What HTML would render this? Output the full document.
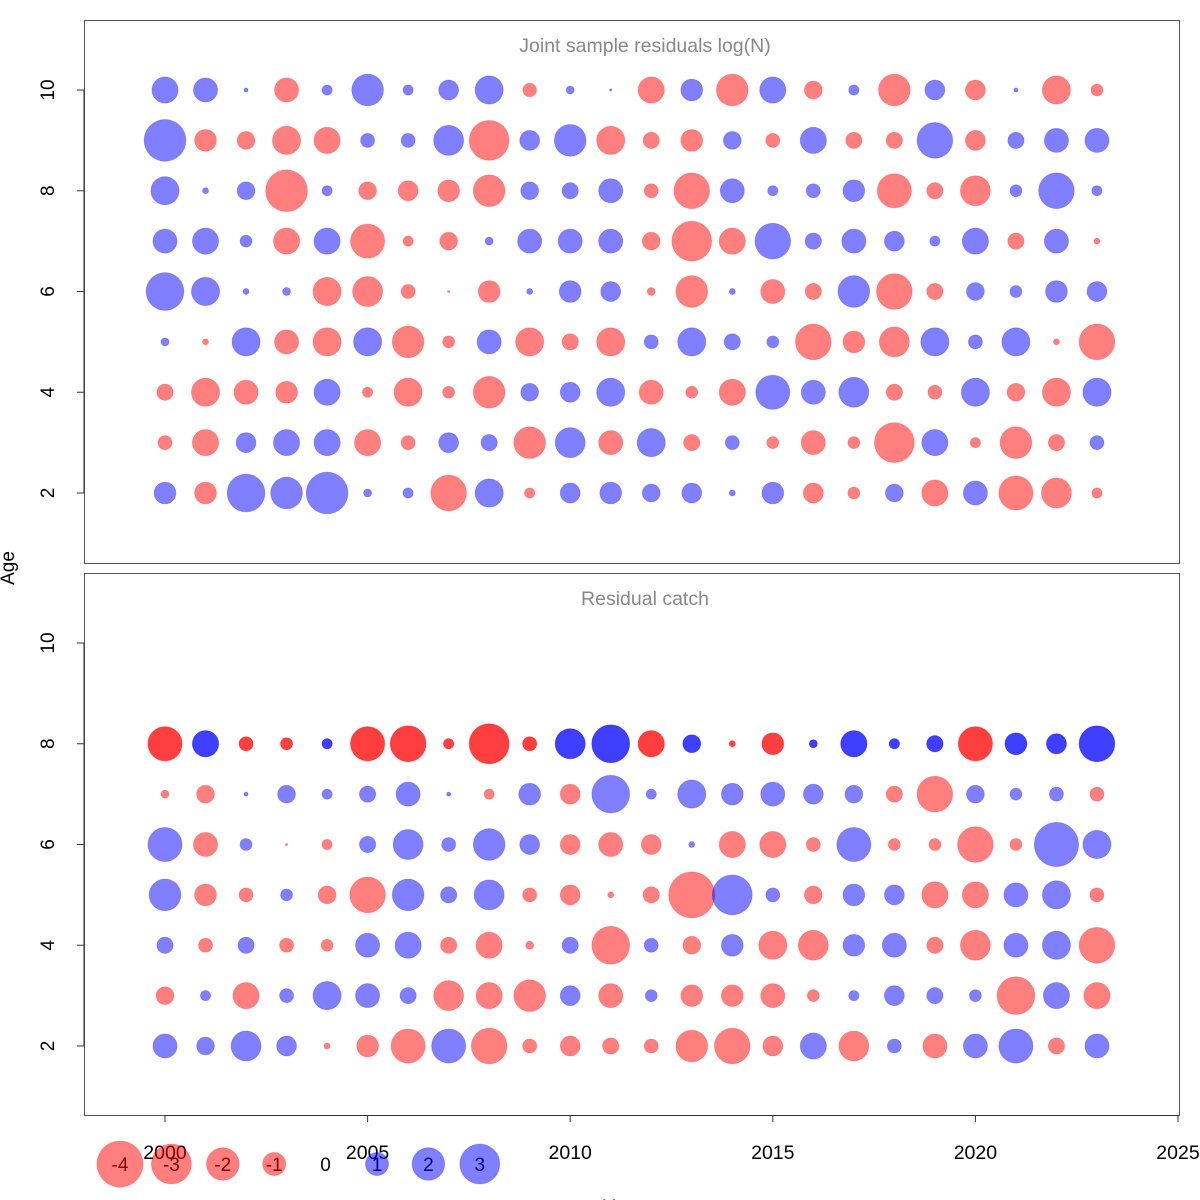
<!DOCTYPE html>
<html><head><meta charset="utf-8"><style>
html,body{margin:0;padding:0;background:#fff;}
svg{display:block;font-family:"Liberation Sans",sans-serif;}
</style></head><body>
<svg id="chart" width="1200" height="1200" viewBox="0 0 1200 1200" xmlns="http://www.w3.org/2000/svg"></svg>
<script>
const years = [2000,2001,2002,2003,2004,2005,2006,2007,2008,2009,2010,2011,2012,2013,2014,2015,2016,2017,2018,2019,2020,2021,2022,2023];
const xTicks = [2000,2005,2010,2015,2020,2025];
const yTicks = [2,4,6,8,10];
const topAges = [10,9,8,7,6,5,4,3,2];
const topResid = [
 [1.3,1.1,0.03,-1.1,0.2,1.9,0.2,0.75,1.5,-0.35,0.12,0.01,-1.3,0.9,-1.9,1.3,-0.6,0.2,-1.9,0.75,-0.75,0.03,-1.5,-0.27],
 [3.3,-0.9,-0.6,-1.5,-1.3,0.37,0.37,1.7,-3.0,0.75,1.9,-1.5,-0.5,-0.9,0.6,-0.37,1.3,-0.5,-0.5,2.4,-0.75,0.5,1.1,1.1],
 [1.5,0.07,0.6,-3.3,0.2,-0.6,-0.75,-0.9,-1.9,0.6,0.5,1.1,-0.37,-2.4,1.1,0.2,0.37,0.9,-2.2,-0.5,-1.7,0.27,2.4,0.2],
 [1.1,1.3,0.27,-1.3,1.3,-2.2,-0.2,-0.6,0.12,1.1,1.1,1.1,-0.6,-3.0,-1.3,2.4,0.5,1.1,0.75,0.2,1.3,-0.5,1.1,-0.07],
 [2.7,1.5,0.07,0.12,-1.5,-1.7,-0.37,-0.01,-0.9,0.07,0.9,0.75,-0.12,-1.9,0.07,-1.1,-0.5,1.9,-2.4,-0.5,0.6,0.27,0.9,0.75],
 [0.12,-0.07,1.5,-1.1,-1.5,1.5,-1.9,-0.27,1.1,-1.5,-0.5,-1.5,0.37,1.5,0.5,0.27,-2.4,-0.9,-1.7,1.5,0.37,1.5,-0.07,-2.4],
 [-0.5,-1.5,-1.1,-0.9,1.3,-0.2,-1.5,-0.27,-1.9,0.6,0.75,1.5,-1.1,-0.27,-1.3,2.2,1.1,1.7,-0.5,-0.37,1.5,-0.6,-1.5,1.5],
 [-0.37,-1.3,0.75,1.3,1.3,-1.3,-0.37,0.75,0.5,-1.9,1.7,-1.1,1.5,-0.5,0.37,-0.27,-1.1,-0.27,-3.0,1.3,-0.2,-1.9,-0.5,0.37],
 [0.9,-0.9,2.7,1.9,3.3,0.12,0.2,-2.4,1.5,-0.2,0.75,0.9,0.6,0.75,0.07,0.9,-0.75,-0.27,0.6,-1.3,1.1,-2.2,-1.7,-0.2]
];
const botAges = [8,7,6,5,4,3,2];
const botResid = [
 [-2.2,1.3,-0.37,-0.27,0.2,-2.2,-2.4,-0.2,-3.0,-0.37,1.7,2.7,-1.3,0.6,-0.07,-0.9,0.12,1.3,0.2,0.5,-2.2,0.9,0.75,2.4],
 [-0.12,-0.6,0.03,0.6,0.2,0.5,1.1,0.03,-0.2,0.9,-0.75,2.7,0.2,1.5,0.9,1.1,0.75,0.6,-0.5,-2.4,0.6,0.27,0.37,-0.37],
 [2.2,-1.1,0.27,-0.01,-0.2,0.5,1.7,0.37,1.9,0.75,-0.75,-1.1,-0.75,0.07,-1.3,-1.3,-0.37,2.2,-0.27,-0.27,-2.4,-0.27,3.7,1.5],
 [1.9,-0.9,-0.37,0.27,-0.6,-2.4,1.9,0.5,1.7,-0.37,-0.75,-0.07,-0.5,-4.0,3.0,0.37,-0.6,0.9,0.75,-1.3,-1.3,1.1,1.5,-0.37],
 [0.5,-0.37,0.5,-0.37,-0.27,1.1,1.3,-0.5,-1.3,-0.12,0.5,-2.7,0.37,-0.6,0.9,-1.5,-1.7,0.9,1.1,-0.5,-1.7,1.1,1.5,-2.4],
 [-0.6,0.2,-1.3,0.37,1.5,1.1,0.5,-1.7,-1.3,-1.9,0.75,-1.1,0.27,-0.9,-0.9,-1.1,-0.27,0.2,0.75,0.5,0.27,-2.7,1.3,-1.3],
 [1.1,0.6,1.7,0.75,-0.07,-0.9,-2.2,2.2,-2.4,-0.37,-0.75,-0.5,-0.37,-1.9,-2.4,-0.75,1.3,-1.7,0.37,-1.1,1.1,2.2,-0.5,1.1]
];
const legendVals = [-4,-3,-2,-1,0,1,2,3];

const NS="http://www.w3.org/2000/svg";
const svg=document.getElementById('chart');
function mk(tag,attrs,parent){const e=document.createElementNS(NS,tag);for(const k in attrs)e.setAttribute(k,attrs[k]);(parent||svg).appendChild(e);return e;}
const xS = y => 165 + (y-2000)*(1178-165)/25;
const rS = v => 11.5*Math.sqrt(Math.abs(v));
const RED='rgba(255,0,0,0.5)', BLUE='rgba(0,0,255,0.5)';

function panel(top, bottom, title, name){
  const yS = a => (top+70) + (10-a)*(403/8);
  const g=mk('g',{});
  
  
  const box=mk('rect',{x:84.5,y:top+0.5,width:1095,height:bottom-top,fill:'none',stroke:'#555','stroke-width':1},g);
  
  
  const t=mk('text',{x:645,y:top+32,'text-anchor':'middle','font-size':19.5,fill:'#888'},g);
  t.textContent=title;
  
  
  const ax=mk('g',{},g);
  
  
  yTicks.forEach(a=>{
    const y=yS(a);
    mk('line',{x1:77,x2:84,y1:y,y2:y,stroke:'#333'},ax);
    const lb=mk('text',{x:54,y:y,'text-anchor':'middle','font-size':19,fill:'#000',transform:`rotate(-90 54 ${y})`},ax);
    lb.textContent=a;
    
    
  });
  mk('line',{x1:84,x2:84,y1:yS(2),y2:yS(10),stroke:'#333'},ax);
  return {g,yS};
}
function bubbles(g, yS, ages, resid, doubleAge){
  ages.forEach((a,i)=>{
    years.forEach((yr,j)=>{
      const v=resid[i][j];
      const n = (a===doubleAge)?2:1;
      for(let k=0;k<n;k++){
        const c=mk('circle',{cx:xS(yr),cy:yS(a),r:rS(v),fill:v<0?RED:BLUE,stroke:v<0?'rgba(255,0,0,0.25)':'rgba(0,0,255,0.25)','stroke-width':0.8},g);
        
        
      }
    });
  });
}
const p1=panel(20,563,'Joint sample residuals log(N)','survey-panel');
bubbles(p1.g,p1.yS,topAges,topResid,null);
const p2=panel(573,1115,'Residual catch','catch-panel');
bubbles(p2.g,p2.yS,botAges,botResid,8);

const xa=mk('g',{});


mk('line',{x1:xS(2000),x2:xS(2025),y1:1115.5,y2:1115.5,stroke:'#333'},xa);
xTicks.forEach(yr=>{
  mk('line',{x1:xS(yr),x2:xS(yr),y1:1115,y2:1122,stroke:'#333'},xa);
  const lb=mk('text',{x:xS(yr),y:1159,'text-anchor':'middle','font-size':19.5,fill:'#000'},xa);
  lb.textContent=yr;
  
  
});
const yt=mk('text',{x:14,y:568,'text-anchor':'middle','font-size':19,fill:'#000',transform:'rotate(-90 14 568)'});
yt.textContent='Age';


const xt=mk('text',{x:622,y:1213,'text-anchor':'middle','font-size':19,fill:'#000'});
xt.textContent='Year';



const lg=mk('g',{});


legendVals.forEach((v,i)=>{
  const cx=120+i*51.4;
  const lb=mk('text',{x:cx,y:1171,'text-anchor':'middle','font-size':19,fill:'#000'},lg);
  lb.textContent=v;
  
  
  if(v!==0){
    const c=mk('circle',{cx:cx,cy:1164,r:rS(v),fill:v<0?RED:BLUE,stroke:v<0?'rgba(255,0,0,0.25)':'rgba(0,0,255,0.25)'},lg);
    
    
  }
});
</script>
</body></html>
